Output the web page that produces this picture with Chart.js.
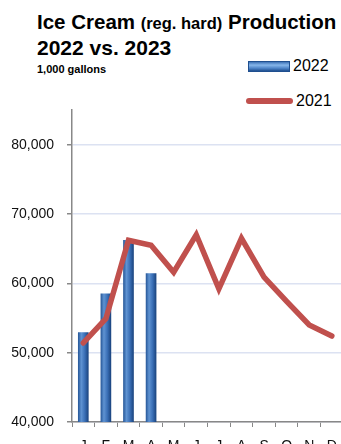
<!DOCTYPE html>
<html>
<head>
<meta charset="utf-8">
<script src="https://cdn.jsdelivr.net/npm/chart.js@4.4.1/dist/chart.umd.min.js"></script>
<style>
  html, body { margin: 0; padding: 0; background: #fff; overflow: hidden; }
  body { width: 341px; height: 444px; position: relative; font-family: Arial, "Liberation Sans", sans-serif; }
  #wrap { position: absolute; left: 0; top: 0; width: 348px; height: 456px; }
  .title { position: absolute; left: 37px; font-weight: bold; color: #000; white-space: nowrap; }
  #t1 { top: 10px; font-size: 20.5px; }
  #t1 small { font-size: 16.5px; }
  #t2 { top: 36px; font-size: 21px; }
  #t3 { top: 63px; font-size: 11px; }
  .leg { position: absolute; left: 246px; height: 14px; display: flex; align-items: center; font-size: 16px; color: #000; }
  .leg span { margin-left: 3px; }
  #leg1 { top: 59px; }
  #leg2 { top: 94px; }
  .sw-bar { width: 42px; height: 11px; margin-left: 2px; box-sizing: border-box; border: 1px solid #1f4f8f;
    background: linear-gradient(to bottom, #3d72b6 0%, #86b6ea 35%, #4d83c7 70%, #1f4f8f 100%); }
  .sw-line { width: 47px; height: 6px; border-radius: 3px; }
</style>
</head>
<body>
<div class="title" id="t1">Ice Cream <small>(reg. hard)</small> Production</div>
<div class="title" id="t2">2022 vs. 2023</div>
<div class="title" id="t3">1,000 gallons</div>
<div id="legend"></div>
<div id="wrap"><canvas id="chart"></canvas></div>
<script>
const months = ['J', 'F', 'M', 'A', 'M', 'J', 'J', 'A', 'S', 'O', 'N', 'D'];
const prod2022 = [52900, 58500, 66200, 61400];
const prod2021 = [51400, 54900, 66200, 65500, 61600, 67000, 59200, 66500, 60900, 57400, 54000, 52400];
const yTicks = [40000, 50000, 60000, 70000, 80000];

// horizontal shading so each bar looks like a cylinder
function barFill(ctx) {
  const chart = ctx.chart;
  const xs = chart.scales.x;
  const cx = xs ? xs.getPixelForValue(ctx.dataIndex) : NaN;
  if (!isFinite(cx)) return '#3a6eb5';
  const g = chart.ctx.createLinearGradient(cx - 5, 0, cx + 5, 0);
  g.addColorStop(0, '#2a5b9c');
  g.addColorStop(0.3, '#5f93d2');
  g.addColorStop(0.65, '#3a6fb6');
  g.addColorStop(1, '#1b4580');
  return g;
}

const datasets = [
  {
    type: 'line',
    label: '2021',
    data: prod2021,
    borderColor: '#c0504d',
    backgroundColor: '#c0504d',
    borderWidth: 5.5,
    pointRadius: 0,
    tension: 0,
    borderCapStyle: 'round',
    order: 0
  },
  {
    type: 'bar',
    label: '2022',
    data: prod2022,
    backgroundColor: barFill,
    borderWidth: 0,
    barThickness: 10,
    order: 1
  }
];

// legend: bar swatch first, then the line
const legend = document.getElementById('legend');
legend.innerHTML =
  '<div class="leg" id="leg1"><div class="sw-bar"></div><span>' + datasets[1].label + '</span></div>' +
  '<div class="leg" id="leg2"><div class="sw-line" style="background:' + datasets[0].borderColor + '"></div><span>' + datasets[0].label + '</span></div>';

const ctx = document.getElementById('chart').getContext('2d');
const chart = new Chart(ctx, {
  data: { labels: months, datasets: datasets },
  options: {
    responsive: true,
    maintainAspectRatio: false,
    animation: false,
    layout: { padding: { top: 110, left: 0, right: 0, bottom: 0 } },
    plugins: { legend: { display: false }, tooltip: { enabled: false } },
    scales: {
      x: {
        offset: true,
        grid: { offset: true, drawOnChartArea: false, color: '#888', tickLength: 5 },
        border: { color: '#888', width: 1.5 },
        ticks: { color: '#111', font: { family: 'Arial, "Liberation Sans"', size: 14 }, padding: 11, maxRotation: 0, autoSkip: false },
        afterFit: s => { s.height = 34; }
      },
      y: {
        min: 40000,
        max: 85000,
        afterBuildTicks: s => { s.ticks = yTicks.map(v => ({ value: v })); },
        grid: { color: '#dce2f2', lineWidth: 1.5, tickColor: '#888', tickLength: 5 },
        border: { color: '#888', width: 1.5 },
        ticks: {
          color: '#111',
          padding: 13,
          font: { family: 'Arial, "Liberation Sans"', size: 14 },
          callback: v => v.toLocaleString('en-US')
        },
        afterFit: s => { s.width = 72; }
      }
    }
  }
});
chart.update();
</script>
</body>
</html>
